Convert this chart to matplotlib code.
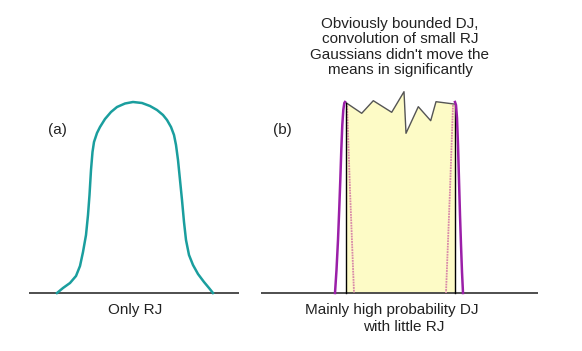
import matplotlib
matplotlib.use("Agg")
import matplotlib.pyplot as plt

plt.rcParams['font.family'] = ['Liberation Sans', 'DejaVu Sans']

W, H = 582, 351

# Panel (a): RJ-only curve (pixel-space samples)
rj_x = [57, 63, 70, 76, 80, 83, 86, 88, 89.5, 91, 92.5, 94, 97, 100, 105, 111, 117, 125, 133, 142, 150, 157, 163, 167, 171, 174, 176, 178, 180, 182, 184, 186, 189, 193, 198, 204, 209, 213]
rj_y = [293, 288, 283, 276, 266, 252, 235, 215, 195, 170, 152, 142, 133, 127, 119, 112, 107, 103.5, 102, 103, 106, 110, 115, 120, 127, 135, 145, 160, 180, 200, 222, 240, 255, 265, 274, 282, 288, 293]

# Panel (b): outer purple (DJ+RJ) curve, left and right flanks
dj_outer_lx = [335, 336.5, 338, 339.2, 340.3, 341.3, 342.3, 343.3, 344.3, 345]
dj_outer_ly = [293, 270, 240, 210, 180, 150, 125, 110, 103, 102]
dj_outer_rx = [455, 456, 457, 458, 459, 460, 461, 462, 463]
dj_outer_ry = [102, 105, 118, 145, 180, 215, 245, 272, 293]

# Panel (b): jagged top of the bounded DJ histogram
dj_top_x = [346, 361.7, 373.3, 391.7, 404, 406, 418.3, 430.7, 436, 454]
dj_top_y = [102.7, 113.3, 100.7, 112.3, 91.7, 133.3, 106.7, 120.7, 101.7, 104]
dj_left, dj_right = 346, 455

# Panel (b): inner pink dashed lines
pink_left_x = [347, 350, 354]
pink_left_y = [103, 190, 293]
pink_right_x = [453, 450, 446]
pink_right_y = [105, 190, 293]

baseline_y = 293
base_a = [29, 239]
base_b = [261, 538]

fig = plt.figure(figsize=(W / 100, H / 100), dpi=100)
ax = fig.add_axes([0, 0, 1, 1])
ax.set_xlim(0, W)
ax.set_ylim(H, 0)
ax.axis('off')

# baselines
ax.plot(base_a, [baseline_y] * 2, color='#404040', lw=1.3, solid_capstyle='butt')
ax.plot(base_b, [baseline_y] * 2, color='#404040', lw=1.3, solid_capstyle='butt')

# (a) curve
ax.plot(rj_x, rj_y, color='#1a9e9e', lw=1.8)

# (b) yellow bounded histogram
poly_x = [dj_left] + dj_top_x + [dj_right, dj_right, dj_left]
poly_y = [baseline_y] + dj_top_y + [dj_top_y[-1], baseline_y, baseline_y]
ax.fill(poly_x, poly_y, color='#fdfbc6', lw=0, zorder=1)
ax.plot(dj_top_x, dj_top_y, color='#555555', lw=1.0, zorder=3)
ax.plot([dj_left, dj_left], [baseline_y, dj_top_y[0]], color='black', lw=1.0, zorder=3)
ax.plot([dj_right, dj_right], [baseline_y, dj_top_y[-1]], color='black', lw=1.0, zorder=3)

# pink inner lines
ax.plot(pink_left_x, pink_left_y, color='#d888a8', lw=1.3, ls=(0, (1, 0.5)), zorder=2)
ax.plot(pink_right_x, pink_right_y, color='#d888a8', lw=1.3, ls=(0, (1, 0.5)), zorder=2)

# purple outer curve
ax.plot(dj_outer_lx, dj_outer_ly, color='#9b1fa8', lw=1.8, zorder=4)
ax.plot(dj_outer_rx, dj_outer_ry, color='#9b1fa8', lw=1.8, zorder=4)

fs = 11
tc = '#222222'
ax.text(57, 130, '(a)', fontsize=fs, ha='center', va='center', color=tc)
ax.text(282, 130, '(b)', fontsize=fs, ha='center', va='center', color=tc)
ax.text(135, 310, 'Only RJ', fontsize=fs, ha='center', va='center', color=tc)
ax.text(392, 310, 'Mainly high probability DJ', fontsize=fs, ha='center', va='center', color=tc)
ax.text(404, 327, 'with little RJ', fontsize=fs, ha='center', va='center', color=tc)
ax.text(400, 47, "Obviously bounded DJ,\nconvolution of small RJ\nGaussians didn't move the\nmeans in significantly",
        fontsize=fs, ha='center', va='center', color=tc, linespacing=1.12)

fig.savefig('out.png', dpi=100)
